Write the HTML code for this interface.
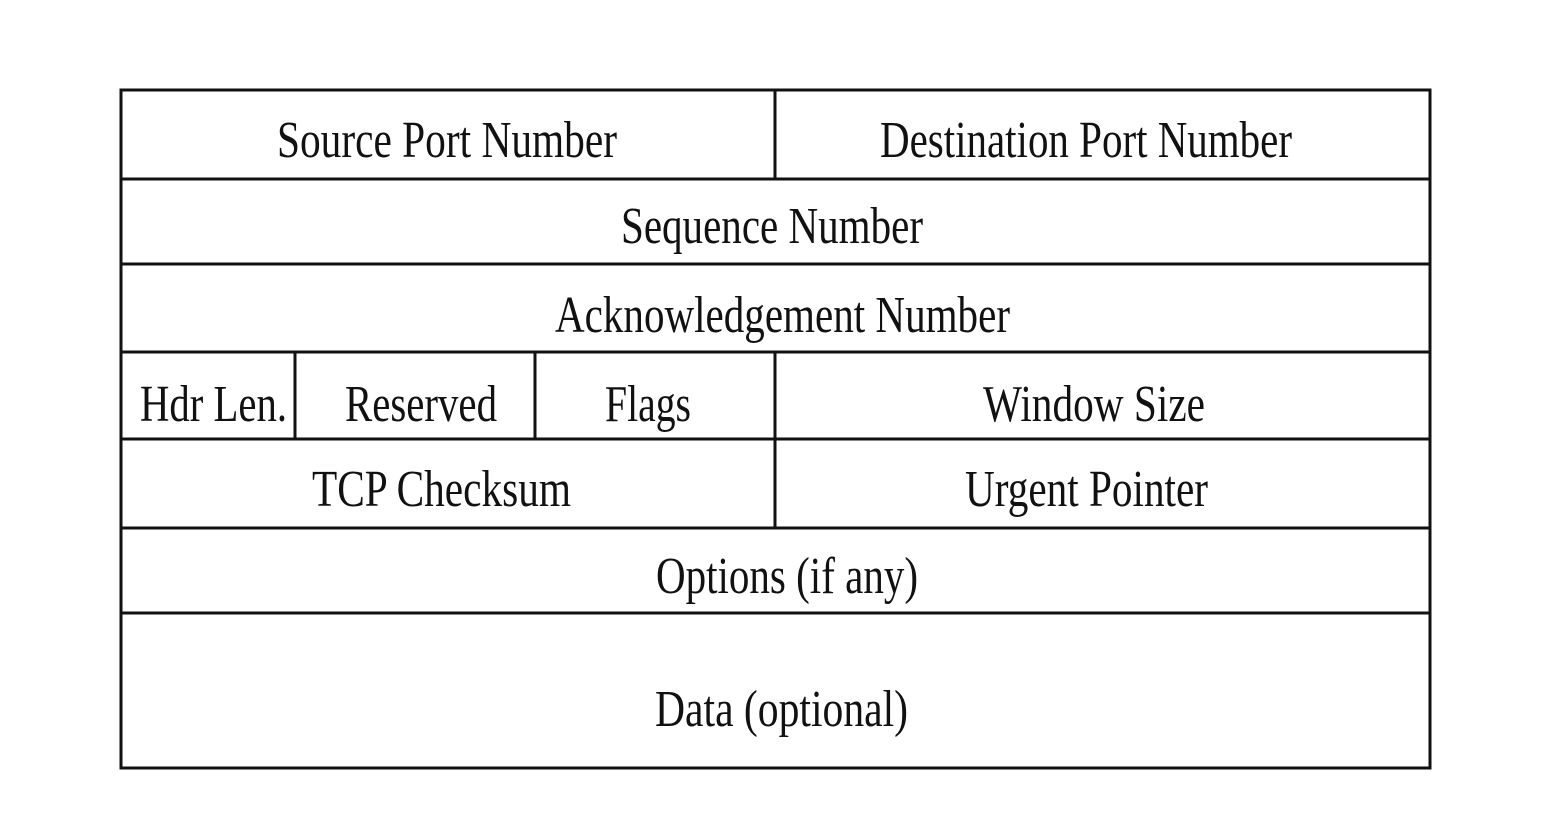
<!DOCTYPE html>
<html><head><meta charset="utf-8"><style>
html,body{margin:0;padding:0;background:#fff;}
svg{display:block;}
text{font-family:"Liberation Serif",serif;font-size:52px;fill:#111;}
</style></head><body>
<svg width="1560" height="830" viewBox="0 0 1560 830" xmlns="http://www.w3.org/2000/svg">
<g stroke="#111" stroke-width="3" fill="none">
<rect x="121" y="90" width="1309" height="678"/>
<line x1="121" y1="179" x2="1430" y2="179"/>
<line x1="121" y1="264" x2="1430" y2="264"/>
<line x1="121" y1="352" x2="1430" y2="352"/>
<line x1="121" y1="439" x2="1430" y2="439"/>
<line x1="121" y1="528" x2="1430" y2="528"/>
<line x1="121" y1="613" x2="1430" y2="613"/>
<line x1="775" y1="90" x2="775" y2="179"/>
<line x1="775" y1="352" x2="775" y2="528"/>
<line x1="295" y1="352" x2="295" y2="439"/>
<line x1="535" y1="352" x2="535" y2="439"/>
</g>
<g lengthAdjust="spacingAndGlyphs">
<text x="277" y="157" textLength="340" lengthAdjust="spacingAndGlyphs">Source Port Number</text>
<text x="880" y="157" textLength="412" lengthAdjust="spacingAndGlyphs">Destination Port Number</text>
<text x="621" y="243" textLength="302" lengthAdjust="spacingAndGlyphs">Sequence Number</text>
<text x="555" y="332" textLength="455" lengthAdjust="spacingAndGlyphs">Acknowledgement Number</text>
<text x="140" y="421" textLength="147" lengthAdjust="spacingAndGlyphs">Hdr Len.</text>
<text x="345" y="421" textLength="152" lengthAdjust="spacingAndGlyphs">Reserved</text>
<text x="605" y="421" textLength="86" lengthAdjust="spacingAndGlyphs">Flags</text>
<text x="983" y="421" textLength="222" lengthAdjust="spacingAndGlyphs">Window Size</text>
<text x="312" y="506" textLength="259" lengthAdjust="spacingAndGlyphs">TCP Checksum</text>
<text x="965" y="506" textLength="243" lengthAdjust="spacingAndGlyphs">Urgent Pointer</text>
<text x="656" y="593" textLength="262" lengthAdjust="spacingAndGlyphs">Options (if any)</text>
<text x="655" y="726" textLength="253" lengthAdjust="spacingAndGlyphs">Data (optional)</text>
</g>
</svg>
</body></html>
